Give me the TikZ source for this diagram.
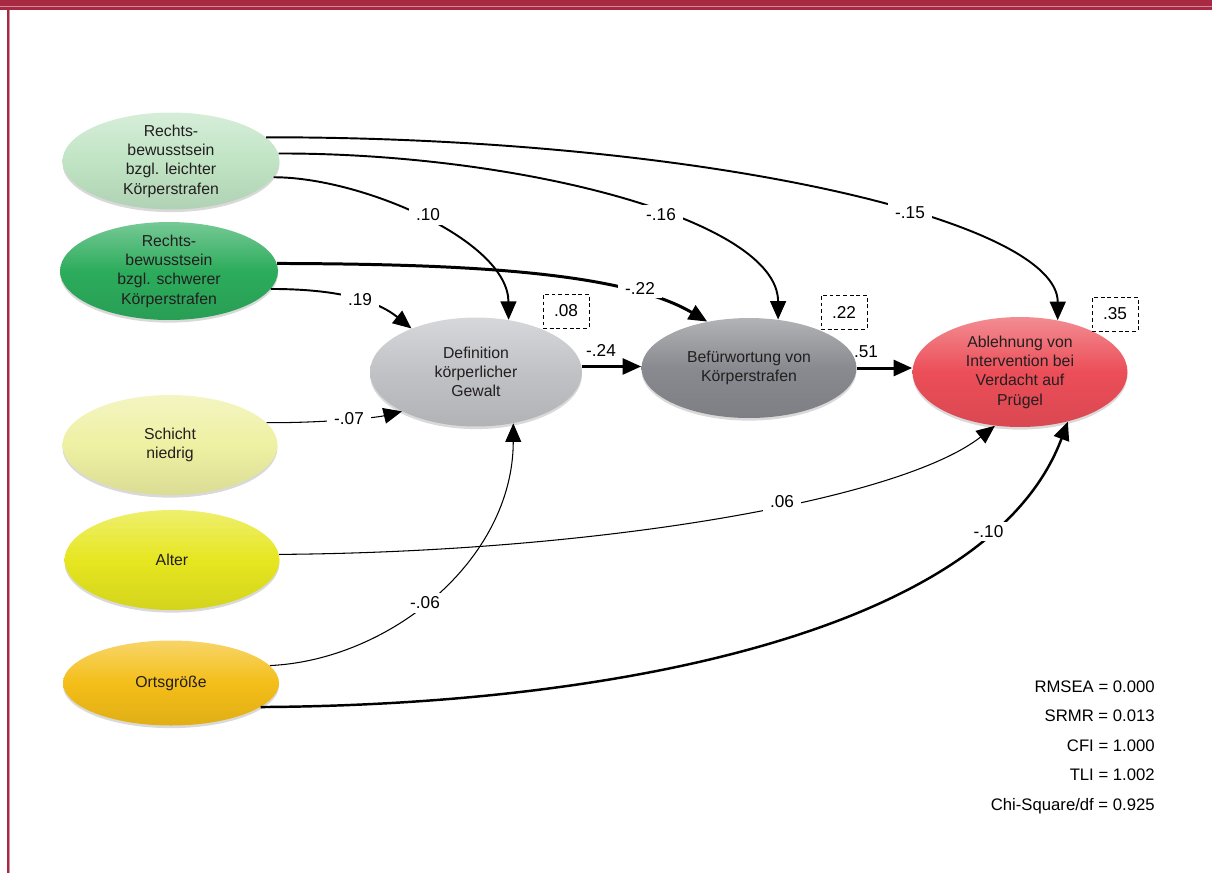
\documentclass[tikz,border=0pt]{standalone}
\usepackage{fontspec}
\setmainfont{Liberation Sans}
\usetikzlibrary{arrows.meta,shapes.geometric,shadows}
\definecolor{rahmen}{RGB}{168,42,66}
\definecolor{hellgruen}{RGB}{192,228,196}
\definecolor{gruen}{RGB}{44,172,92}
\definecolor{hellgelb}{RGB}{238,240,162}
\definecolor{gelb}{RGB}{230,230,32}
\definecolor{ortfarbe}{RGB}{244,190,24}
\definecolor{hellgrau}{RGB}{192,194,198}
\definecolor{dunkelgrau}{RGB}{136,138,143}
\definecolor{rot}{RGB}{236,78,88}
\definecolor{schrift}{RGB}{35,31,32}
\begin{document}
\begin{tikzpicture}[x=0.02cm, y=-0.02cm,
    var/.style={ellipse, minimum width=4.3cm, minimum height=2cm, inner sep=-10pt,
        align=center, text=schrift, font=\fontsize{9}{11}\selectfont,
        drop shadow={shadow xshift=0pt, shadow yshift=-1.5pt, opacity=0.3}},
    farbe/.style={top color=#1!65!white, bottom color=#1!92!black, middle color=#1},
    pfeil/.style={-{Triangle[length=10.5pt,width=9pt]}},
    duenn/.style={pfeil, line width=0.6pt},
    mittel/.style={pfeil, line width=1.1pt},
    dick/.style={pfeil, line width=1.7pt},
    lbl/.style={fill=white, inner xsep=4pt, inner ysep=2pt, font=\fontsize{9.8}{11}\selectfont},
    r2/.style={draw, dash pattern=on 2.2pt off 1.6pt, line width=0.5pt,
        minimum width=0.92cm, minimum height=0.68cm, inner sep=0pt,
        font=\fontsize{9.8}{11}\selectfont}]
    \useasboundingbox (0,0) rectangle (1212,873);

    % 边框
    \fill[rahmen] (0,0) rectangle (1212,6);
    \fill[rahmen!55!white] (0,6) rectangle (1212,7);
    \fill[rahmen] (0,7) rectangle (1212,9.5);
    \fill[rahmen] (6.5,7) rectangle (9,873);
    \fill[rahmen!50!white] (9,9.5) rectangle (10,873);

    % 外生变量
    \node[var, farbe=hellgruen, minimum width=4.34cm, minimum height=1.94cm] (leicht) at (171,161)
        {Rechts-\\bewusstsein\\bzgl. leichter\\Körperstrafen};
    \node[var, farbe=gruen, minimum width=4.36cm, minimum height=1.96cm] (schwer) at (169,271)
        {Rechts-\\bewusstsein\\bzgl. schwerer\\Körperstrafen};
    \node[var, farbe=hellgelb, minimum width=4.3cm, minimum height=2cm] (schicht) at (170,445)
        {Schicht\\niedrig};
    \node[var, farbe=gelb, minimum width=4.3cm, minimum height=2cm] (alter) at (172,560)
        {Alter};
    \node[var, farbe=ortfarbe, minimum width=4.32cm, minimum height=1.7cm] (ort) at (171,683)
        {Ortsgröße};

    % 中介变量与结果
    \node[var, farbe=hellgrau, minimum width=4.24cm, minimum height=2.18cm] (defin) at (476,372)
        {Definition\\körperlicher\\Gewalt};
    \node[var, farbe=dunkelgrau, minimum width=4.3cm, minimum height=2cm] (befuer) at (749,368)
        {Befürwortung von\\Körperstrafen};
    \node[var, farbe=rot, minimum width=4.3cm, minimum height=2.2cm] (ablehn) at (1020,372)
        {Ablehnung von\\Intervention bei\\Verdacht auf\\Prügel};

    % 路径
    \draw[mittel] (leicht.14) .. controls (700,137) and (1058,220) .. (ablehn.54);
    \draw[mittel] (leicht.4) .. controls (520,153) and (778,220) .. (befuer.59);
    \draw[mittel] (leicht.-9) .. controls (360,177) and (508,240) .. (defin.58);
    \draw[dick] (schwer.4) .. controls (450,264) and (620,270) .. (befuer.132);
    \draw[mittel] (schwer.-10) .. controls (320,289) and (370,295) .. (defin.146);
    \draw[duenn] (schicht.13) .. controls (320,423) and (375,418) .. (defin.208);
    \draw[dick] (defin.3) -- (befuer.west |- defin.3);
    \draw[dick] (befuer.east) -- (befuer.east -| ablehn.west);
    \draw[duenn] (alter.3) .. controls (600,552) and (900,500) .. (ablehn.245);
    \draw[duenn] (ort.10) .. controls (390,660) and (513,560) .. (defin.-54);
    \draw[mittel, line width=1.4pt] (ort.-15) .. controls (620,705) and (990,630) .. (ablehn.-46)
        node[lbl, pos=0.8] (k11) {-.10};

    % 系数
    \node[lbl] (k1) at (910,213) {-.15};
    \node[lbl] (k2) at (661,215) {-.16};
    \node[lbl] (k3) at (428,215) {.10};
    \node[lbl] (k4) at (640,288) {-.22};
    \node[lbl] (k5) at (360,300) {.19};
    \node[lbl] (k6) at (349,419) {-.07};
    \node[lbl, fill=none] (k7) at (601,350) {-.24};
    \node[lbl, fill=none] (k8) at (866,352) {.51};
    \node[lbl] (k9) at (782,502) {.06};
    \node[lbl] (k10) at (425,603) {-.06};

    % 残差方框
    \node[r2] (r1) at (566,311) {.08};
    \node[r2] (r2) at (844,312) {.22};
    \node[r2] (r3) at (1115,314) {.35};

    % 拟合指标
    \foreach \txt [count=\i] in {RMSEA = 0.000, SRMR = 0.013, CFI = 1.000, TLI = 1.002, Chi-Square/df = 0.925}
        \node[anchor=base east, inner sep=0pt, font=\fontsize{9.5}{11}\selectfont] (m\i) at (1155,{692+29.5*(\i-1)}) {\txt};
\end{tikzpicture}
\end{document}
